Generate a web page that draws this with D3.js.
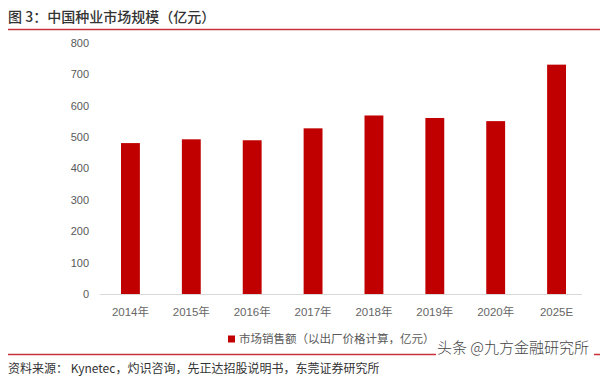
<!DOCTYPE html>
<html lang="zh">
<head>
<meta charset="UTF-8">
<title>中国种业市场规模</title>
<style>
  body { margin: 0; background: #fff; }
  svg text { font-family: "Liberation Sans", "Noto Sans CJK SC", sans-serif; }
</style>
</head>
<body>
<div id="chart"></div>
<script src="https://d3js.org/d3.v7.min.js"></script>
<script>
// data
const years = ["2014年", "2015年", "2016年", "2017年", "2018年", "2019年", "2020年", "2025E"];
const sales = [481, 493, 490, 528, 569, 561, 551, 731];
const yTicks = [0, 100, 200, 300, 400, 500, 600, 700, 800];

const W = 600, H = 384;
const svg = d3.select("#chart").append("svg")
    .attr("width", W).attr("height", H);

svg.append("rect").attr("width", W).attr("height", H).attr("fill", "#fff");

// title + red rule
svg.append("text")
    .attr("x", 8).attr("y", 21.5)
    .attr("font-size", 14).attr("font-weight", 500)
    .attr("fill", "#333")
    .style("font-family", "'Noto Sans CJK SC', sans-serif")
    .text("图 3：中国种业市场规模（亿元）");
svg.append("line")
    .attr("x1", 8).attr("x2", W).attr("y1", 29.5).attr("y2", 29.5)
    .attr("stroke", "#c8323c").attr("stroke-width", 1.3);

// scales
const x = d3.scaleBand().domain(years).range([100, 587]).paddingInner(0.69).paddingOuter(0.345);
const y = d3.scaleLinear().domain([0, 800]).range([294, 43]);

// y labels
svg.append("g")
    .selectAll("text")
    .data(yTicks)
    .join("text")
    .attr("x", 89).attr("y", d => y(d))
    .attr("dy", "0.36em")
    .attr("text-anchor", "end")
    .attr("font-size", 11)
    .attr("fill", "#595959")
    .text(d => d);

// bars
svg.append("g")
    .selectAll("rect")
    .data(sales)
    .join("rect")
    .attr("x", (d, i) => x(years[i]))
    .attr("width", x.bandwidth())
    .attr("y", d => y(d))
    .attr("height", d => y(0) - y(d))
    .attr("fill", "#c00000");

// baseline
svg.append("line")
    .attr("x1", 100).attr("x2", 582)
    .attr("y1", y(0) + 0.5).attr("y2", y(0) + 0.5)
    .attr("stroke", "#d9d9d9").attr("stroke-width", 1);

// x labels
svg.append("g")
    .selectAll("text")
    .data(years)
    .join("text")
    .attr("x", d => x(d) + x.bandwidth() / 2)
    .attr("y", 312).attr("dy", "0.36em")
    .attr("text-anchor", "middle")
    .attr("font-size", 11.5)
    .attr("fill", "#666")
    .text(d => d);

// legend
svg.append("rect")
    .attr("x", 228).attr("y", 335.5).attr("width", 7).attr("height", 7)
    .attr("fill", "#c00000");
svg.append("text")
    .attr("x", 239).attr("y", 339).attr("dy", "0.36em")
    .attr("font-size", 11.5).attr("fill", "#595959")
    .style("font-family", "'Noto Sans CJK SC', sans-serif")
    .text("市场销售额（以出厂价格计算，亿元）");

// bottom rule + source
svg.append("line")
    .attr("x1", 8).attr("x2", W).attr("y1", 354.5).attr("y2", 354.5)
    .attr("stroke", "#c8323c").attr("stroke-width", 1.3);
svg.append("text")
    .attr("x", 8).attr("y", 369).attr("dy", "0.36em")
    .attr("font-size", 12).attr("fill", "#333")
    .style("font-family", "'Noto Sans CJK SC', sans-serif")
    .text("资料来源：  Kynetec，灼识咨询，先正达招股说明书，东莞证券研究所");

// watermark
svg.append("rect")
    .attr("x", 436).attr("y", 339).attr("width", 158).attr("height", 19)
    .attr("fill", "#fff");
svg.append("text")
    .attr("x", 437).attr("y", 348).attr("dy", "0.36em")
    .attr("font-size", 15).attr("font-weight", 300).attr("fill", "#444")
    .style("font-family", "'Noto Sans CJK SC', sans-serif")
    .text("头条 @九方金融研究所");
</script>
</body>
</html>
